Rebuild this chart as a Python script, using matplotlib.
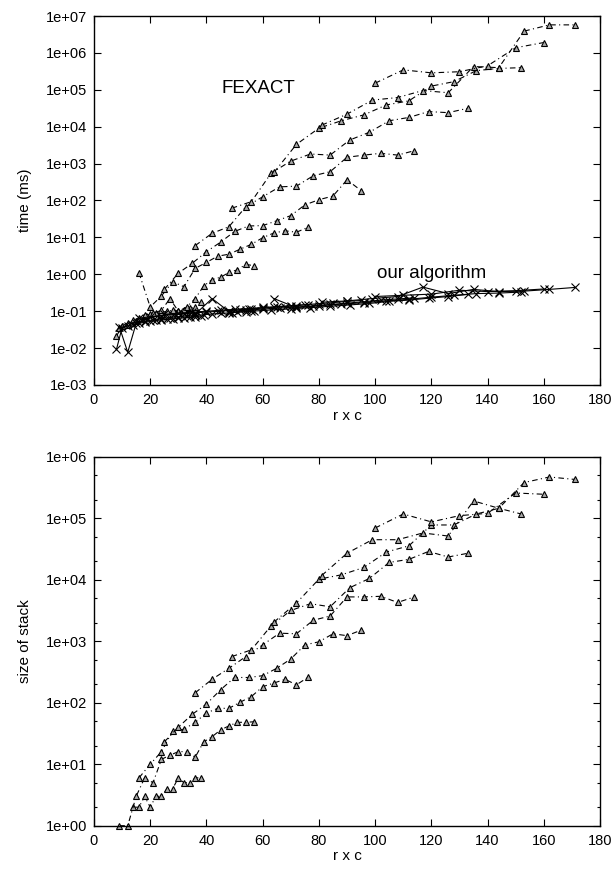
import matplotlib
matplotlib.use("Agg")
import matplotlib.pyplot as plt
from matplotlib.ticker import FixedLocator, FuncFormatter, NullLocator, NullFormatter
import numpy as np

plt.rcParams['font.family'] = ['Liberation Sans', 'DejaVu Sans']

# ---- x positions (r x c) for each row count r ----
rc_2 = [8, 10, 12, 14, 16, 18, 20, 22, 24, 26, 28, 30, 32, 34, 36, 38]
rc_3 = [9, 12, 15, 18, 21, 24, 27, 30, 33, 36, 39, 42, 45, 48, 51, 54, 57]
rc_4 = [16, 20, 24, 28, 32, 36, 40, 44, 48, 52, 56, 60, 64, 68, 72, 76]
rc_5 = [25, 30, 35, 40, 45, 50, 55, 60, 65, 70, 75, 80, 85, 90, 95]
rc_6 = [36, 42, 48, 54, 60, 66, 72, 78, 84, 90, 96, 102, 108, 114]
rc_7 = [49, 56, 63, 70, 77, 84, 91, 98, 105, 112, 119, 126, 133]
rc_8 = [64, 72, 80, 88, 96, 104, 112, 120, 128, 136, 144, 152]
rc_9 = [81, 90, 99, 108, 117, 126, 135, 144, 153, 162, 171]
rc_10 = [100, 110, 120, 130, 140, 150, 160]
rc_2_stack = [14, 16, 18, 20, 22, 24, 26, 28, 30, 32, 34, 36, 38]

# ---- FEXACT time (ms) ----
fexact_2 = [0.021, 0.040, 0.048, 0.056, 0.066, 0.074, 0.083, 0.089, 0.093, 0.100, 0.105, 0.102, 0.110, 0.120, 0.126, 0.18]
fexact_3 = [0.035, 0.042, 0.054, 0.079, 0.089, 0.105, 0.22, 0.10, 0.13, 0.22, 0.48, 0.72, 0.83, 1.12, 1.32, 1.86, 1.70]
fexact_4 = [1.1, 0.13, 0.26, 0.63, 0.46, 1.45, 2.1, 3.1, 3.5, 4.8, 6.5, 9.8, 13.2, 15.1, 13.8, 18.6]
fexact_5 = [0.39, 1.07, 2.0, 4.1, 7.4, 14.5, 20.4, 20.9, 28.2, 38.9, 75.9, 105, 132, 363, 186]
fexact_6 = [6.0, 12.9, 19.5, 67.6, 126, 234, 245, 468, 603, 1480, 1700, 1900, 1700, 2240]
fexact_7 = [61.7, 93.3, 550, 1170, 1820, 1700, 4370, 7080, 14500, 17800, 25700, 24000, 31600]
fexact_8 = [575, 3310, 9120, 14500, 20900, 38900, 50100, 126000, 166000, 331000, 380000, 398000]
fexact_9 = [11000, 21900, 52500, 61700, 95500, 83200, 427000, 398000, 3890000, 5750000, 5750000]
fexact_10 = [151000, 347000, 288000, 309000, 447000, 1380000, 1910000]

# ---- our algorithm time (ms) ----
ours_2 = [0.0093, 0.036, 0.040, 0.043, 0.047, 0.050, 0.053, 0.056, 0.058, 0.060, 0.062, 0.064, 0.066, 0.068, 0.071, 0.074]
ours_3 = [0.038, 0.0077, 0.047, 0.053, 0.059, 0.063, 0.067, 0.071, 0.074, 0.077, 0.080, 0.084, 0.087, 0.090, 0.094, 0.098, 0.102]
ours_4 = [0.064, 0.071, 0.076, 0.081, 0.085, 0.090, 0.095, 0.099, 0.104, 0.109, 0.115, 0.121, 0.128, 0.134, 0.142, 0.150]
ours_5 = [0.082, 0.088, 0.094, 0.100, 0.106, 0.112, 0.118, 0.126, 0.133, 0.141, 0.150, 0.160, 0.170, 0.185, 0.195]
ours_6 = [0.083, 0.22, 0.098, 0.106, 0.114, 0.122, 0.130, 0.140, 0.152, 0.165, 0.180, 0.200, 0.215, 0.230]
ours_7 = [0.092, 0.100, 0.108, 0.116, 0.125, 0.136, 0.148, 0.162, 0.185, 0.200, 0.225, 0.250, 0.285]
ours_8 = [0.22, 0.125, 0.140, 0.155, 0.170, 0.190, 0.210, 0.240, 0.270, 0.300, 0.310, 0.330]
ours_9 = [0.175, 0.190, 0.220, 0.250, 0.45, 0.300, 0.390, 0.340, 0.350, 0.390, 0.440]
ours_10 = [0.250, 0.270, 0.290, 0.370, 0.340, 0.360, 0.400]

# ---- FEXACT size of stack ----
stack_2 = [2, 2, 3, 2, 3, 3, 4, 4, 6, 5, 5, 6, 6]
stack_3 = [1, 1, 3, 6, 5, 12, 14, 16, 16, 13, 23, 28, 36, 42, 48, 48, 49]
stack_4 = [6, 10, 16, 35, 37, 48, 68, 81, 81, 102, 126, 182, 209, 240, 195, 257]
stack_5 = [23, 40, 65, 95, 162, 257, 257, 275, 363, 513, 871, 977, 1320, 1230, 1510]
stack_6 = [145, 240, 363, 562, 871, 1350, 1320, 2190, 2570, 5250, 5250, 5370, 4270, 5250]
stack_7 = [562, 724, 1780, 3160, 4070, 3630, 7410, 10500, 19100, 21400, 28800, 23400, 26900]
stack_8 = [2040, 4170, 10200, 12000, 15800, 28200, 35500, 77600, 77600, 117000, 145000, 117000]
stack_9 = [11700, 26900, 44700, 44700, 57500, 51300, 191000, 145000, 380000, 468000, 427000]
stack_10 = [69200, 117000, 87100, 110000, 120000, 257000, 245000]

x_ticks = [0, 20, 40, 60, 80, 100, 120, 140, 160, 180]

fexact_series = [(rc_2, fexact_2), (rc_3, fexact_3), (rc_4, fexact_4), (rc_5, fexact_5),
                 (rc_6, fexact_6), (rc_7, fexact_7), (rc_8, fexact_8), (rc_9, fexact_9),
                 (rc_10, fexact_10)]
ours_series = [(rc_2, ours_2), (rc_3, ours_3), (rc_4, ours_4), (rc_5, ours_5),
               (rc_6, ours_6), (rc_7, ours_7), (rc_8, ours_8), (rc_9, ours_9),
               (rc_10, ours_10)]
stack_series = [(rc_2_stack, stack_2), (rc_3, stack_3), (rc_4, stack_4), (rc_5, stack_5),
                (rc_6, stack_6), (rc_7, stack_7), (rc_8, stack_8), (rc_9, stack_9),
                (rc_10, stack_10)]

W, H = 616, 877
fig = plt.figure(figsize=(W / 100, H / 100), dpi=100)
ax1 = fig.add_axes([94 / W, 1 - 385 / H, 506 / W, 369 / H])
ax2 = fig.add_axes([94 / W, 1 - 825.7 / H, 506 / W, 369 / H])

dashdot = (0, (5, 3, 1, 3))
tri_kw = dict(color='black', lw=0.8, linestyle=dashdot, marker='^', markersize=5,
              markerfacecolor='#a8a8a8', markeredgecolor='black', markeredgewidth=0.8,
              clip_on=False)
cross_kw = dict(color='black', lw=0.8, linestyle='-', marker='x', markersize=5.5,
                markeredgewidth=0.8, clip_on=False)

for xs, ys in fexact_series:
    ax1.plot(xs, ys, **tri_kw)
for xs, ys in ours_series:
    ax1.plot(xs, ys, **cross_kw)
for xs, ys in stack_series:
    ax2.plot(xs, ys, **tri_kw)


def sci(v, pos):
    e = int(round(np.log10(v)))
    return f"1e{e:+03d}"


for ax, (lo, hi) in [(ax1, (-3, 7)), (ax2, (0, 6))]:
    ax.set_yscale('log')
    ax.set_ylim(10.0 ** lo, 10.0 ** hi)
    ax.set_xlim(0, 180)
    ax.xaxis.set_major_locator(FixedLocator(x_ticks))
    ax.yaxis.set_major_locator(FixedLocator([10.0 ** k for k in range(lo, hi + 1)]))
    ax.yaxis.set_major_formatter(FuncFormatter(sci))
    ax.xaxis.set_minor_locator(NullLocator())
    ax.tick_params(which='both', direction='in', top=True, right=True,
                   labelsize=10.5, width=0.8, color='black')
    ax.tick_params(which='major', length=5)
    ax.tick_params(which='minor', length=2.5)
    ax.tick_params(axis='x', pad=6)
    ax.tick_params(axis='y', pad=5)
    for s in ax.spines.values():
        s.set_linewidth(1.0)
    ax.set_xlabel('r x c', fontsize=11, labelpad=1)

ax1.yaxis.set_minor_locator(NullLocator())
minor2 = []
for k in range(0, 6):
    minor2 += [2 * 10.0 ** k, 5 * 10.0 ** k]
ax2.yaxis.set_minor_locator(FixedLocator(minor2))
ax2.yaxis.set_minor_formatter(NullFormatter())

ax1.set_ylabel('time (ms)', fontsize=11, labelpad=10)
ax2.set_ylabel('size of stack', fontsize=11, labelpad=10)

ax1.text(58.5, 1.1e5, 'FEXACT', fontsize=13.5, ha='center', va='center')
ax1.text(120, 1.07, 'our algorithm', fontsize=13.5, ha='center', va='center')

fig.savefig('out.png', dpi=100)
